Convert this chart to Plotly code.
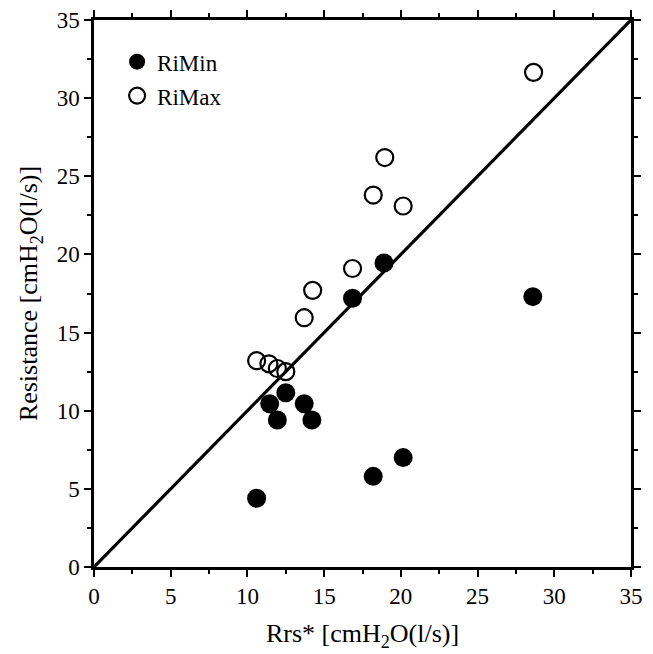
import plotly.graph_objects as go

# RiMin (filled circles)
rimin_x = [10.6, 11.45, 11.95, 12.5, 13.7, 14.2, 16.85, 18.9, 18.2, 20.15, 28.6]
rimin_y = [4.4, 10.45, 9.4, 11.15, 10.45, 9.4, 17.2, 19.45, 5.8, 7.0, 17.3]

# RiMax (open circles)
rimax_x = [10.6, 11.4, 11.95, 12.5, 13.7, 14.25, 16.85, 18.2, 18.95, 20.15, 28.65]
rimax_y = [13.2, 13.0, 12.7, 12.5, 15.95, 17.7, 19.1, 23.8, 26.2, 23.1, 31.65]

identity = [0, 35]
ticks = [0, 5, 10, 15, 20, 25, 30, 35]

font = "Liberation Serif"

fig = go.Figure()
fig.add_trace(go.Scatter(x=identity, y=identity, mode="lines",
                         line=dict(color="black", width=3.2),
                         showlegend=False, hoverinfo="skip"))
fig.add_trace(go.Scatter(x=rimin_x, y=rimin_y, mode="markers", name="RiMin",
                         legendgroup="a",
                         marker=dict(symbol="circle", size=19, color="black",
                                     line=dict(width=0))))
fig.add_trace(go.Scatter(x=rimax_x, y=rimax_y, mode="markers", name="RiMax",
                         legendgroup="b",
                         marker=dict(symbol="circle-open", size=17, color="black",
                                     line=dict(width=2.2, color="black"))))

axis_common = dict(
    range=[0, 35], tickvals=ticks, ticks="outside", ticklen=7, tickwidth=2,
    tickcolor="black", showline=True, linecolor="black", linewidth=2.5,
    mirror="ticks", showgrid=False, zeroline=False, automargin=False,
    tickfont=dict(family=font, size=23, color="black"),
    minor=dict(dtick=2.5, ticks="outside", ticklen=4, tickwidth=1.5, tickcolor="black"),
)

fig.update_layout(
    width=653, height=654,
    margin=dict(l=94, r=22, t=20, b=87),
    paper_bgcolor="white", plot_bgcolor="white",
    font=dict(family=font, color="black"),
    xaxis=dict(**axis_common,
               title=dict(text="Rrs* [cmH<sub>2</sub>O(l/s)]",
                          font=dict(family=font, size=26), standoff=16)),
    yaxis=dict(**axis_common,
               title=dict(text="Resistance [cmH<sub>2</sub>O(l/s)]",
                          font=dict(family=font, size=26), standoff=12)),
    legend=dict(x=0.043, y=0.963, xanchor="left", yanchor="top",
                font=dict(family=font, size=23, color="black"),
                bgcolor="rgba(0,0,0,0)", borderwidth=0,
                traceorder="grouped", tracegroupgap=1,
                itemwidth=30),
)

fig.write_html("out.html", config={"displayModeBar": False},
               post_script="document.body.style.margin='0px';document.body.style.padding='0px';")
